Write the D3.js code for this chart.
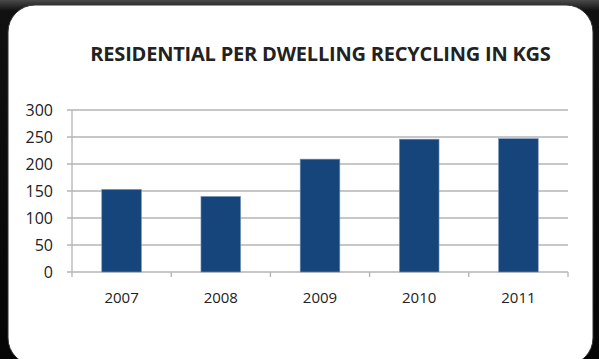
<!DOCTYPE html>
<html>
<head>
<meta charset="utf-8">
<script src="https://cdn.jsdelivr.net/npm/d3@7"></script>
<style>
  body { margin: 0; background: #0b0b0b; overflow: hidden; }
  text { font-family: "Open Sans", "Noto Sans", sans-serif; fill: #222; }
</style>
</head>
<body>
<script>
var years = ["2007", "2008", "2009", "2010", "2011"];
var values = [153, 140, 209, 246, 247];
var yTicks = [0, 50, 100, 150, 200, 250, 300];
var title = "RESIDENTIAL PER DWELLING RECYCLING IN KGS";

var W = 599, H = 359;
var margin = {top: 110, right: 31, bottom: 87, left: 72}
  , width = W - margin.left - margin.right
  , height = H - margin.top - margin.bottom;

var root = d3.select("body").append("svg")
    .attr("width", W)
    .attr("height", H);

// dark background with a faint lighter band on top
var defs = root.append("defs");
var grad = defs.append("linearGradient").attr("id", "bg")
    .attr("x1", 0).attr("y1", 0).attr("x2", 0).attr("y2", 1);
grad.append("stop").attr("offset", "0%").attr("stop-color", "#4a4a4a");
grad.append("stop").attr("offset", "3%").attr("stop-color", "#111");
grad.append("stop").attr("offset", "100%").attr("stop-color", "#050505");
root.append("rect").attr("width", W).attr("height", H).attr("fill", "url(#bg)");

// white card
root.append("rect")
    .attr("x", 8).attr("y", 5)
    .attr("width", 585).attr("height", 360)
    .attr("rx", 27).attr("ry", 27)
    .attr("fill", "#fff")
    .attr("stroke", "#333").attr("stroke-width", 1);

root.append("text")
    .attr("x", 320.5).attr("y", 61)
    .attr("text-anchor", "middle")
    .style("font-weight", "bold")
    .style("font-size", "20px")
    .style("letter-spacing", "-0.2px")
    .text(title);

var svg = root.append("g")
    .attr("transform", "translate(" + margin.left + "," + margin.top + ")");

var x = d3.scaleBand().domain(years).range([0, width]).paddingInner(0.6).paddingOuter(0.3);
var y = d3.scaleLinear().domain([0, 300]).range([height, 0]);

// gridlines + left ticks
svg.selectAll(".grid")
    .data(yTicks)
    .enter().append("line")
    .attr("class", "grid")
    .attr("x1", -5).attr("x2", width)
    .attr("y1", function (d) { return y(d); })
    .attr("y2", function (d) { return y(d); })
    .attr("stroke", "#b4b4b4")
    .attr("stroke-width", 1.3);

svg.selectAll(".ylab")
    .data(yTicks)
    .enter().append("text")
    .attr("class", "ylab")
    .attr("x", -19)
    .attr("y", function (d) { return y(d) + 6; })
    .attr("text-anchor", "end")
    .style("font-size", "16px")
    .text(function (d) { return d; });

// y axis line
svg.append("line")
    .attr("x1", 0).attr("x2", 0)
    .attr("y1", 0).attr("y2", height)
    .attr("stroke", "#b4b4b4").attr("stroke-width", 1.3);

// category ticks at boundaries
var bounds = d3.range(years.length + 1).map(function (i) { return i * width / years.length; });
svg.selectAll(".xtick")
    .data(bounds)
    .enter().append("line")
    .attr("class", "xtick")
    .attr("x1", function (d) { return d; }).attr("x2", function (d) { return d; })
    .attr("y1", height).attr("y2", height + 5)
    .attr("stroke", "#b4b4b4").attr("stroke-width", 1.3);

svg.selectAll(".bar")
    .data(values)
    .enter().append("rect")
    .attr("class", "bar")
    .attr("x", function (d, i) { return x(years[i]); })
    .attr("width", x.bandwidth())
    .attr("y", function (d) { return y(d); })
    .attr("height", function (d) { return height - y(d); })
    .attr("fill", "#15457b")
    .attr("stroke", "#7d98bb")
    .attr("stroke-width", 0.6);

svg.selectAll(".xlab")
    .data(years)
    .enter().append("text")
    .attr("class", "xlab")
    .attr("x", function (d) { return x(d) + x.bandwidth() / 2; })
    .attr("y", height + 31)
    .attr("text-anchor", "middle")
    .style("font-size", "15px")
    .text(function (d) { return d; });
</script>
</body>
</html>
